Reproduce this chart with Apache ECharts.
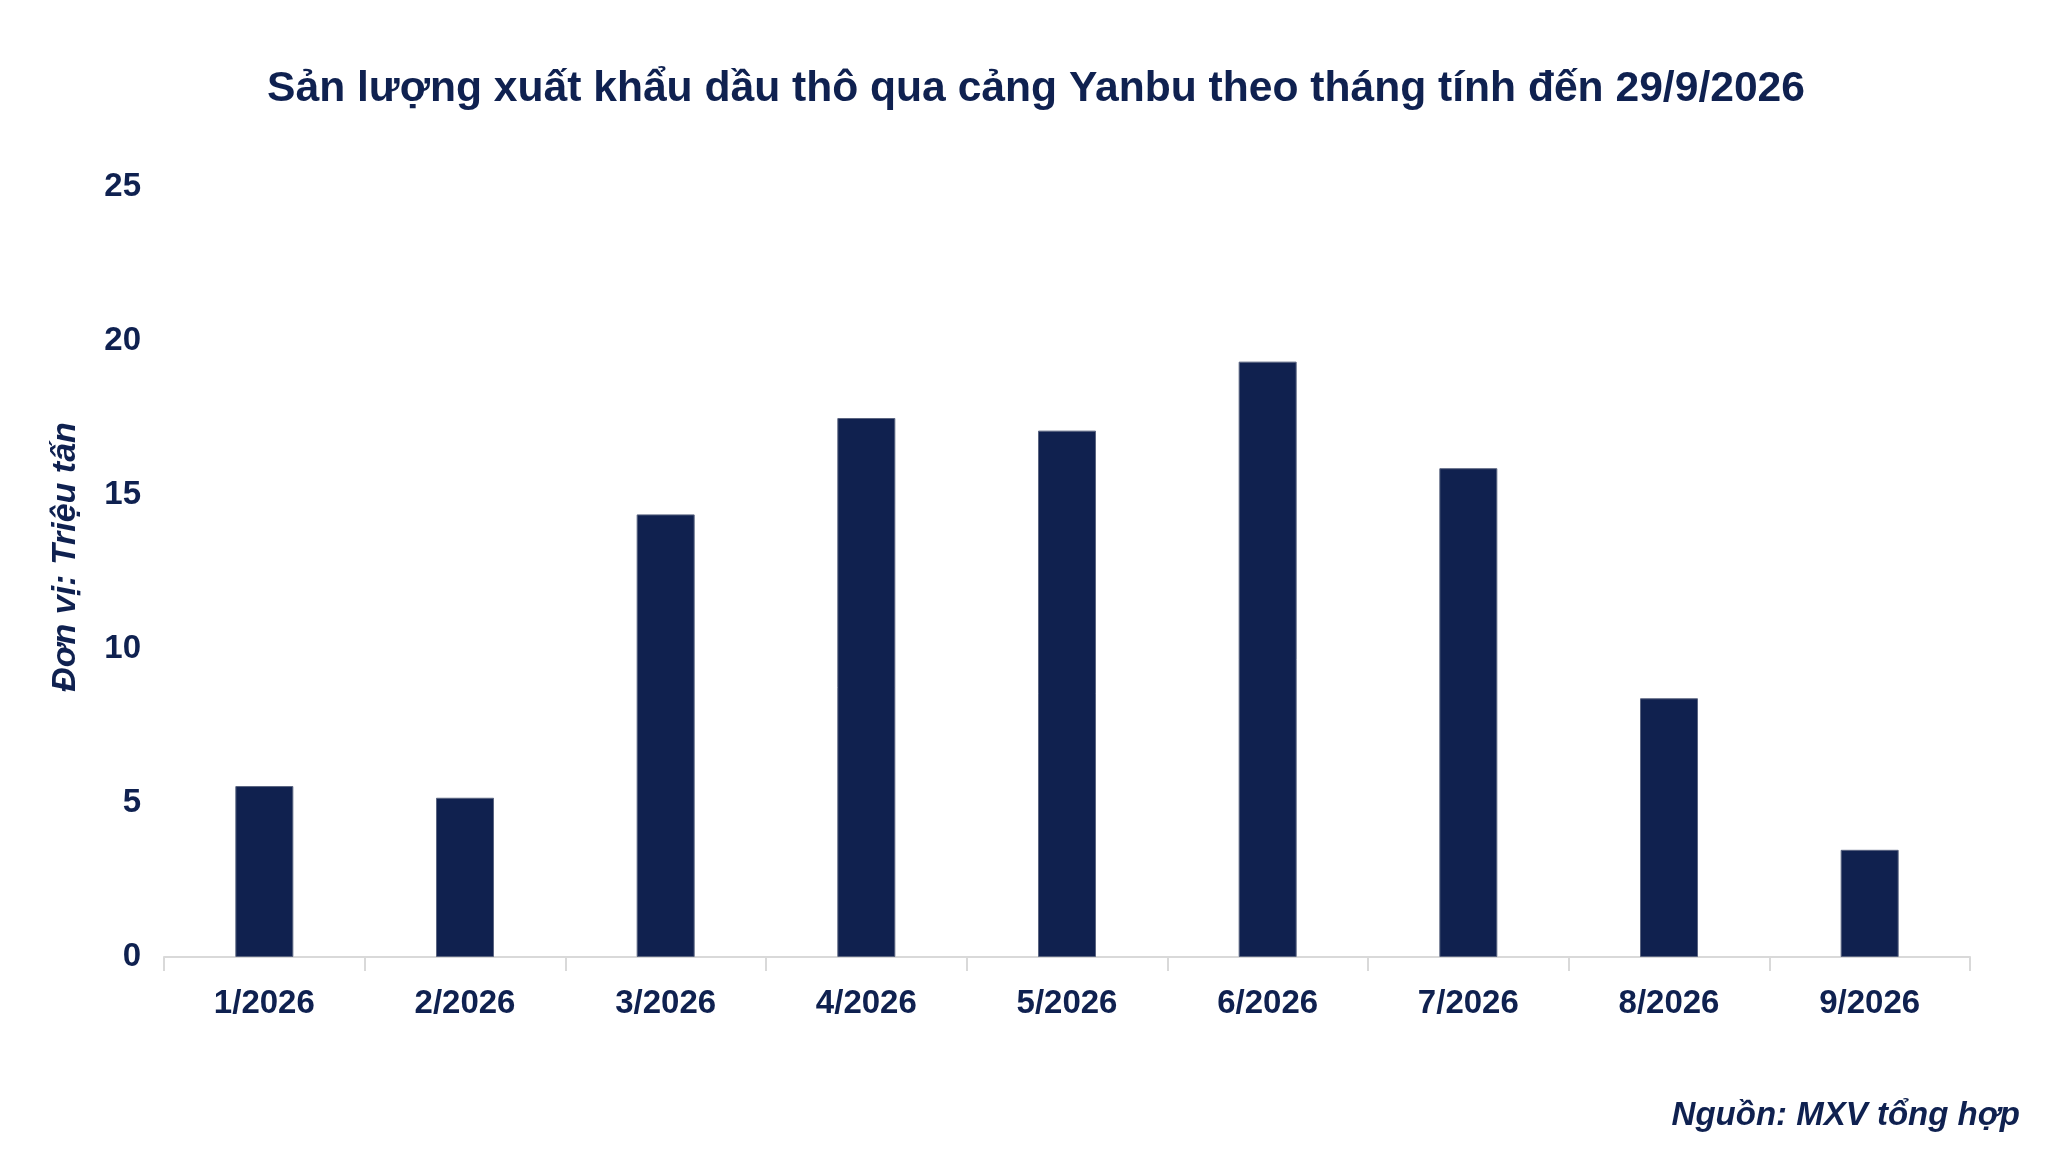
<!DOCTYPE html>
<html>
<head>
<meta charset="utf-8">
<script src="https://cdn.jsdelivr.net/npm/echarts@6/dist/echarts.min.js"></script>
<style>
html,body{margin:0;padding:0;background:#fff;}
#chart{width:2048px;height:1153px;}
</style>
</head>
<body>
<div id="chart"></div>
<script>
const categories = ['1/2026','2/2026','3/2026','4/2026','5/2026','6/2026','7/2026','8/2026','9/2026'];
const values = [5.55, 5.17, 14.37, 17.5, 17.09, 19.33, 15.87, 8.4, 3.48];
const yTicks = [0, 5, 10, 15, 20, 25];
const titleText = 'Sản lượng xuất khẩu dầu thô qua cảng Yanbu theo tháng tính đến 29/9/2026';
const yAxisName = 'Đơn vị: Triệu tấn';
const sourceText = 'Nguồn: MXV tổng hợp';

const navy = '#0f2150';
const chart = echarts.init(document.getElementById('chart'));
chart.setOption({
  backgroundColor: '#fff',
  title: {
    text: titleText,
    left: 1031, top: 63, textAlign: 'center',
    textStyle: { fontFamily: 'Liberation Sans', fontWeight: 'bold', fontSize: 42.6, color: navy }
  },
  graphic: [
    {
      type: 'text', right: 28, top: 1099,
      style: { text: sourceText, fontFamily: 'Liberation Sans', fontWeight: 'bold', fontStyle: 'italic', fontSize: 33, fill: navy }
    },
    {
      type: 'text', x: 66, y: 557, rotation: Math.PI / 2,
      style: { text: yAxisName, fontFamily: 'Liberation Sans', fontWeight: 'bold', fontStyle: 'italic', fontSize: 34, fill: navy, align: 'center', verticalAlign: 'middle' }
    }
  ],
  grid: { left: 164, right: 78, top: 187, bottom: 196 },
  xAxis: {
    type: 'category',
    data: categories,
    axisLine: { show: true, lineStyle: { color: '#d9d9d9', width: 2 } },
    axisTick: { show: true, length: 14, lineStyle: { color: '#d9d9d9', width: 2 } },
    axisLabel: { margin: 30, fontFamily: 'Liberation Sans', fontWeight: 'bold', fontSize: 33, color: navy }
  },
  yAxis: {
    type: 'value',
    min: yTicks[0], max: yTicks[yTicks.length - 1], interval: 5,
    splitLine: { show: false },
    axisLine: { show: false },
    axisTick: { show: false },
    axisLabel: { margin: 23, fontFamily: 'Liberation Sans', fontWeight: 'bold', fontSize: 33, color: navy }
  },
  series: [{
    type: 'bar',
    data: values,
    barWidth: 58,
    itemStyle: { color: '#10214f', borderColor: '#5a6480', borderWidth: 1 },
    animation: false
  }],
  animation: false
});
</script>
</body>
</html>
